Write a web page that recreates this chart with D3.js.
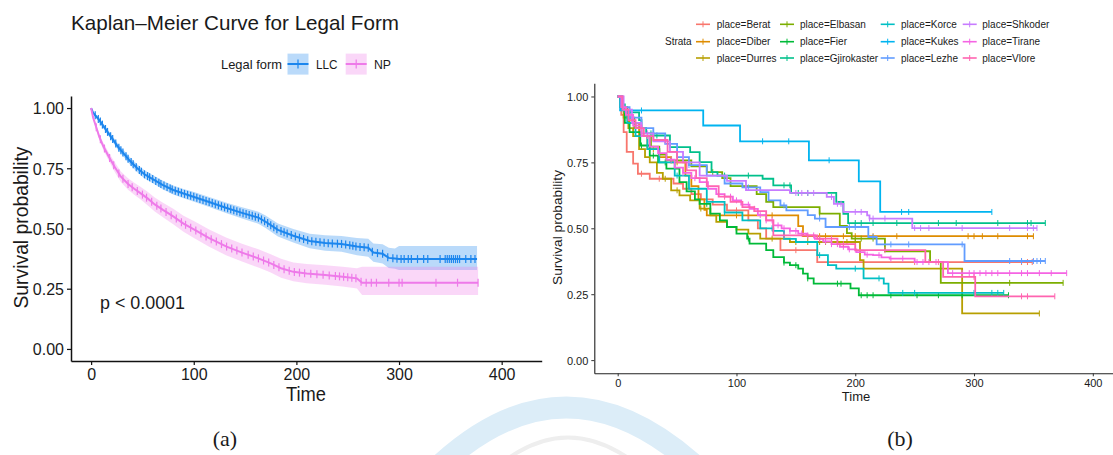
<!DOCTYPE html>
<html><head><meta charset="utf-8">
<script src="https://cdn.jsdelivr.net/npm/d3@7"></script>
<style>
body{margin:0;background:#fff}
svg{display:block}
text{font-family:"Liberation Sans",Arial,sans-serif;fill:#1a1a1a}
</style></head>
<body><svg id="c" width="1113" height="455"></svg>
<script>
// ---------------- DATA: panel (a) ----------------
const legalForms = ["LLC", "NP"];
const legalColors = ["#1C86EE", "#EE7AE9"];
const xTicks = [0, 100, 200, 300, 400];
const yTicks = [0, 0.25, 0.5, 0.75, 1];

const llcTime  = [0, 2, 5, 8, 12, 17, 22, 26, 32, 38, 45, 52, 60, 70, 80, 90, 101, 115, 132, 147, 163, 170, 182, 197, 213, 228, 244, 259, 270, 275, 284, 290, 296, 300, 376];
const llcSurv  = [1, 0.98, 0.965, 0.95, 0.925, 0.895, 0.865, 0.84, 0.81, 0.78, 0.75, 0.725, 0.705, 0.68, 0.66, 0.645, 0.63, 0.61, 0.585, 0.565, 0.545, 0.528, 0.494, 0.47, 0.448, 0.44, 0.436, 0.425, 0.42, 0.40, 0.395, 0.378, 0.375, 0.373, 0.373];
const llcUpper = [1, 0.984, 0.971, 0.958, 0.935, 0.906, 0.877, 0.853, 0.824, 0.795, 0.766, 0.742, 0.722, 0.698, 0.679, 0.664, 0.65, 0.631, 0.607, 0.588, 0.57, 0.554, 0.521, 0.498, 0.478, 0.472, 0.469, 0.461, 0.457, 0.438, 0.435, 0.42, 0.417, 0.427, 0.427];
const llcLower = [1, 0.976, 0.959, 0.942, 0.915, 0.884, 0.853, 0.827, 0.796, 0.765, 0.734, 0.708, 0.688, 0.662, 0.641, 0.626, 0.61, 0.589, 0.563, 0.542, 0.52, 0.502, 0.467, 0.442, 0.418, 0.408, 0.403, 0.389, 0.383, 0.362, 0.355, 0.336, 0.333, 0.328, 0.328];
const llcCensor = [4,7,9,11,14,16,19,21,24,27,29,31,34,36,39,41,44,47,49,52,55,57,60,63,66,68,71,74,77,79,82,85,88,91,94,97,100,103,106,109,112,115,118,121,124,127,130,133,136,139,142,145,148,151,154,157,160,163,166,169,172,175,178,181,185,188,191,195,199,203,207,211,215,219,223,227,231,235,240,244,248,252,255,258,262,266,270,274,279,284,289,294,298,302,305,309,312,318,324,328,340,345,347,349,351,353,355,357,359,365,370,374];

const npTime  = [0, 2, 5, 8, 12, 17, 23, 29, 36, 42, 48, 55, 62, 70, 80, 90, 101, 115, 132, 147, 163, 175, 185, 197, 210, 228, 245, 259, 264, 377];
const npSurv  = [1, 0.96, 0.92, 0.88, 0.84, 0.80, 0.755, 0.715, 0.685, 0.665, 0.647, 0.625, 0.60, 0.577, 0.55, 0.52, 0.494, 0.46, 0.425, 0.40, 0.376, 0.355, 0.335, 0.32, 0.313, 0.307, 0.30, 0.293, 0.275, 0.275];
const npUpper = [1, 0.966, 0.93, 0.892, 0.855, 0.817, 0.775, 0.737, 0.709, 0.69, 0.673, 0.653, 0.629, 0.607, 0.582, 0.553, 0.529, 0.496, 0.462, 0.437, 0.414, 0.393, 0.374, 0.359, 0.353, 0.347, 0.341, 0.335, 0.341, 0.341];
const npLower = [1, 0.954, 0.91, 0.868, 0.825, 0.783, 0.735, 0.693, 0.661, 0.64, 0.621, 0.597, 0.571, 0.547, 0.518, 0.487, 0.459, 0.424, 0.388, 0.363, 0.338, 0.317, 0.296, 0.281, 0.273, 0.267, 0.259, 0.251, 0.224, 0.224];
const npCensor = [5,9,13,18,22,27,31,36,40,45,50,54,59,64,68,73,78,83,88,92,97,102,107,112,117,122,127,132,137,142,147,153,158,163,168,173,178,183,188,193,198,203,208,214,220,226,232,238,242,246,250,254,258,263,268,273,278,290,300,303,336,357,377];

// ---------------- DATA: panel (b) ----------------
const places = ["Berat","Diber","Durres","Elbasan","Fier","Gjirokaster","Korce","Kukes","Lezhe","Shkoder","Tirane","Vlore"];
const placeColors = ["#F8766D","#DE8C00","#B79F00","#7CAE00","#00BA38","#00C08B","#00BFC4","#00B4F0","#619CFF","#C77CFF","#F564E3","#FF64B0"];

const beratT = [0,3,5,7.6,13,17,27,47,55,62,70,80,92,110,118,125,137,168,349];
const beratS = [1,0.93,0.865,0.79,0.745,0.707,0.688,0.67,0.65,0.63,0.61,0.59,0.568,0.53,0.50,0.461,0.417,0.372,0.372];
const beratC = [20,35,100,150,250,340,345,349];

const diberT = [0,4,10,18,25,35,45,57,62,68,73,75,152,156,350];
const diberS = [1,0.95,0.90,0.85,0.80,0.77,0.75,0.70,0.66,0.61,0.57,0.549,0.508,0.47,0.47];
const diberC = [30,50,100,130,160,170,175,190,200,215,235,295,300,307,320,345,350];

const durresT = [0,2,5,9,13,18,23,27,33,38,45,52,61,69,78,83,92,100,110,120,145,204,207,290,355];
const durresS = [1,0.96,0.92,0.88,0.85,0.80,0.77,0.75,0.71,0.688,0.644,0.625,0.606,0.575,0.549,0.524,0.505,0.495,0.48,0.461,0.448,0.379,0.347,0.177,0.177];
const durresC = [40,50,70,100,130,150,160,170,175,185,193,200,355];

const elbasanT = [0,3,8,14,20,28,35,41,62,75,88,95,117,125,131,170,187,193,197,225,263,272,375];
const elbasanS = [1,0.96,0.92,0.88,0.85,0.81,0.78,0.758,0.735,0.713,0.69,0.66,0.63,0.60,0.58,0.556,0.509,0.482,0.461,0.413,0.372,0.293,0.293];
const elbasanC = [45,80,170,200,205,215,330,375];

const fierT = [0,3,6,10,19,27,34,41,52,58,65,69,78,86,92,100,109,111,125,131,140,145,152,156,160,165,196,203,329];
const fierS = [1,0.95,0.90,0.865,0.814,0.776,0.75,0.726,0.675,0.64,0.61,0.593,0.556,0.53,0.505,0.48,0.461,0.442,0.417,0.391,0.37,0.36,0.347,0.328,0.31,0.29,0.272,0.246,0.246];
const fierC = [20,30,40,75,110,140,150,160,185,188,205,210,215,230,252,270,290,329];

const gjiroT = [0,3,6,18,20,24,30,44,61,69,79,84,122,131,146,184,190,194,360];
const gjiroS = [1,0.97,0.94,0.91,0.88,0.86,0.852,0.808,0.789,0.751,0.713,0.70,0.688,0.663,0.634,0.60,0.555,0.52,0.52];
const gjiroC = [28,33,90,110,140,145,152,160,200,205,215,235,270,285,320,345,348,360];

const korceT = [0,3,8,15,25,35,48,60,75,90,105,120,131,140,150,168,177,184,207,224,228,325];
const korceS = [1,0.95,0.90,0.85,0.80,0.75,0.70,0.65,0.60,0.56,0.53,0.50,0.49,0.46,0.448,0.398,0.36,0.347,0.31,0.29,0.255,0.255];
const korceC = [50,90,130,170,200,220,240,250,300,315,320,325];

const kukesT = [0,2,72,103,161,203,221,315];
const kukesS = [1,0.947,0.89,0.83,0.758,0.678,0.562,0.562];
const kukesC = [20,122,144,178,239,245,315];

const lezheT = [0,4,10,20,30,40,50,60,75,90,105,120,127,137,142,160,166,175,211,218,292,360];
const lezheS = [1,0.96,0.92,0.88,0.86,0.82,0.77,0.74,0.70,0.67,0.655,0.637,0.606,0.587,0.568,0.55,0.537,0.505,0.467,0.439,0.376,0.376];
const lezheC = [10,30,60,110,140,170,195,200,215,230,245,290,330,340,350,353,356,360];

const shkoderT = [0,5,12,20,30,44,55,69,92,108,145,176,182,190,210,212,248,353];
const shkoderS = [1,0.95,0.90,0.86,0.83,0.79,0.75,0.70,0.68,0.645,0.634,0.619,0.593,0.562,0.549,0.537,0.501,0.501];
const shkoderC = [25,40,150,155,160,165,180,185,188,200,205,212,215,225,250,255,262,290,330,345,350,353];

const tiraneT = [0,3,7,13,20,27,34,41,48,55,62,69,76,83,90,97,104,111,118,125,131,138,145,152,159,166,173,180,187,194,201,208,215,222,229,250,278,378];
const tiraneS = [1,0.96,0.93,0.89,0.85,0.81,0.785,0.76,0.73,0.71,0.69,0.675,0.65,0.63,0.62,0.606,0.59,0.574,0.55,0.53,0.511,0.50,0.49,0.48,0.473,0.46,0.45,0.44,0.43,0.42,0.41,0.40,0.398,0.39,0.385,0.372,0.33,0.33];
const tiraneC = [15,25,35,45,55,65,75,85,95,100,105,110,115,120,125,130,135,140,145,150,155,160,165,170,175,180,185,190,195,200,210,220,230,240,252,257,262,268,282,290,296,300,305,310,315,320,330,340,345,355,365,378];

const vloreT = [0,4,9,15,22,30,42,50,58,66,75,85,95,105,115,125,131,168,185,200,259,274,301,368];
const vloreS = [1,0.95,0.91,0.88,0.85,0.835,0.79,0.75,0.72,0.69,0.66,0.62,0.60,0.58,0.565,0.53,0.473,0.461,0.44,0.417,0.372,0.316,0.242,0.242];
const vloreC = [40,90,140,170,180,190,225,270,300,340,345,368];

const strataT = [beratT,diberT,durresT,elbasanT,fierT,gjiroT,korceT,kukesT,lezheT,shkoderT,tiraneT,vloreT];
const strataS = [beratS,diberS,durresS,elbasanS,fierS,gjiroS,korceS,kukesS,lezheS,shkoderS,tiraneS,vloreS];
const strataC = [beratC,diberC,durresC,elbasanC,fierC,gjiroC,korceC,kukesC,lezheC,shkoderC,tiraneC,vloreC];

// ---------------- DRAW ----------------
const svg = d3.select("#c");
const fmt = d3.format(".2f");

// watermark decoration
svg.append("path").attr("d","M 420 485 Q 565 330 715 485").attr("fill","none")
  .attr("stroke","#dcedf8").attr("stroke-width",22);
svg.append("path").attr("d","M 478 485 Q 567 390 660 485").attr("fill","none")
  .attr("stroke","#eeeeee").attr("stroke-width",4);

// ===== Panel (a) =====
const xL = d3.scaleLinear().domain([-19.6, 439]).range([71, 541.7]);
const yL = d3.scaleLinear().domain([-0.05, 1.05]).range([361, 96]);

const gA = svg.append("g");
function drawGroup(T, S, U, Lo, C, color) {
  const band = d3.area().x((d,i)=>xL(T[i])).y0((d,i)=>yL(Lo[i])).y1((d,i)=>yL(U[i]));
  gA.append("path").attr("d", band(T)).attr("fill", color).attr("opacity", 0.3);
  const line = d3.line().x((d,i)=>xL(T[i])).y((d,i)=>yL(S[i]));
  gA.append("path").attr("d", line(T)).attr("fill","none").attr("stroke",color).attr("stroke-width",2);
  const interp = d3.scaleLinear().domain(T).range(S);
  gA.append("g").selectAll("line").data(C).join("line")
    .attr("x1", d=>xL(d)).attr("x2", d=>xL(d))
    .attr("y1", d=>yL(interp(d))-4).attr("y2", d=>yL(interp(d))+4)
    .attr("stroke", color).attr("stroke-width", 1.2);
}
drawGroup(llcTime, llcSurv, llcUpper, llcLower, llcCensor, legalColors[0]);
drawGroup(npTime, npSurv, npUpper, npLower, npCensor, legalColors[1]);

const axL = gA.append("g").attr("transform","translate(71,0)")
  .call(d3.axisLeft(yL).tickValues(yTicks).tickFormat(fmt).tickSize(4).tickSizeOuter(0));
const axB = gA.append("g").attr("transform","translate(0,361)")
  .call(d3.axisBottom(xL).tickValues(xTicks).tickSize(4).tickSizeOuter(0));
[axL, axB].forEach(a=>{
  a.select(".domain").attr("stroke","#111").attr("stroke-width",1.5);
  a.selectAll(".tick line").attr("stroke","#111").attr("stroke-width",1.2);
  a.selectAll(".tick text").style("font-size","16px").style("font-family","'Liberation Sans',Arial,sans-serif").attr("fill","#1a1a1a");
});
axL.selectAll(".tick text").attr("x",-7).attr("dy","0.36em");
axB.selectAll(".tick text").attr("y",7).attr("dy","0.76em");

gA.append("text").attr("x",71).attr("y",30).style("font-size","21px").attr("textLength",328).attr("lengthAdjust","spacingAndGlyphs")
  .text("Kaplan–Meier Curve for Legal Form");
gA.append("text").attr("transform","translate(28,227.5) rotate(-90)").attr("text-anchor","middle")
  .style("font-size","20px").attr("textLength",162).attr("lengthAdjust","spacingAndGlyphs").text("Survival probability");
gA.append("text").attr("x",306).attr("y",401).attr("text-anchor","middle").style("font-size","20px")
  .attr("textLength",40).attr("lengthAdjust","spacingAndGlyphs").text("Time");
gA.append("text").attr("x",100).attr("y",308.5).style("font-size","18px").attr("textLength",85).attr("lengthAdjust","spacingAndGlyphs").text("p < 0.0001");

// legend (a)
gA.append("text").attr("x",221).attr("y",68.5).style("font-size","13.5px").attr("textLength",61).attr("lengthAdjust","spacingAndGlyphs").text("Legal form");
const legA = [{x:287.5, tx:316, tw:21.5}, {x:345.7, tx:374, tw:17}];
legalForms.forEach((lf,i)=>{
  const L = legA[i];
  gA.append("rect").attr("x",L.x).attr("y",53.6).attr("width",21).attr("height",21).attr("fill",legalColors[i]).attr("opacity",0.3);
  gA.append("line").attr("x1",L.x).attr("x2",L.x+21).attr("y1",64).attr("y2",64).attr("stroke",legalColors[i]).attr("stroke-width",2);
  gA.append("line").attr("x1",L.x+10.5).attr("x2",L.x+10.5).attr("y1",59.5).attr("y2",68.5).attr("stroke",legalColors[i]).attr("stroke-width",1.2);
  gA.append("text").attr("x",L.tx).attr("y",68.5).style("font-size","13.5px").attr("textLength",L.tw).attr("lengthAdjust","spacingAndGlyphs").text(lf);
});

// ===== Panel (b) =====
const xR = d3.scaleLinear().domain([-19.7, 417]).range([594.3, 1113]);
const yR = d3.scaleLinear().domain([-0.05, 1.05]).range([373.3, 83.3]);
const gB = svg.append("g");

function stepAt(T, S, t) { let v = S[0]; for (let i = 0; i < T.length; i++) if (T[i] <= t) v = S[i]; return v; }
const stepLine = d3.line().curve(d3.curveStepAfter);
places.forEach((p,k)=>{
  const T = strataT[k], S = strataS[k];
  gB.append("path").attr("d", stepLine(T.map((t,i)=>[xR(t), yR(S[i])])))
    .attr("fill","none").attr("stroke",placeColors[k]).attr("stroke-width",1.8);
  gB.append("g").selectAll("line").data(strataC[k]).join("line")
    .attr("x1",d=>xR(d)).attr("x2",d=>xR(d))
    .attr("y1",d=>yR(stepAt(T,S,d))-3).attr("y2",d=>yR(stepAt(T,S,d))+3)
    .attr("stroke",placeColors[k]).attr("stroke-width",1);
});

const axRL = gB.append("g").attr("transform","translate(594.3,0)")
  .call(d3.axisLeft(yR).tickValues(yTicks).tickFormat(fmt).tickSize(3).tickSizeOuter(0));
const axRB = gB.append("g").attr("transform","translate(0,373.3)")
  .call(d3.axisBottom(xR).tickValues(xTicks).tickSize(3).tickSizeOuter(0));
[axRL, axRB].forEach(a=>{
  a.select(".domain").attr("stroke","#222").attr("stroke-width",1.1);
  a.selectAll(".tick line").attr("stroke","#333").attr("stroke-width",1);
  a.selectAll(".tick text").style("font-size","11px").style("font-family","'Liberation Sans',Arial,sans-serif").attr("fill","#333");
});
axRL.selectAll(".tick text").attr("x",-6).attr("dy","0.36em");
axRB.selectAll(".tick text").attr("y",5).attr("dy","0.76em");

gB.append("text").attr("transform","translate(562,227.5) rotate(-90)").attr("text-anchor","middle")
  .style("font-size","13.5px").attr("textLength",115).attr("lengthAdjust","spacingAndGlyphs").text("Survival probability");
gB.append("text").attr("x",856).attr("y",401).attr("text-anchor","middle").style("font-size","13px").text("Time");

// legend (b)
gB.append("text").attr("x",665).attr("y",45).style("font-size","10px").attr("fill","#333").text("Strata");
const colKeyX = [696, 780, 880.7, 962.7];
const colTxtX = [716.7, 800, 901, 982.3];
const rowY = [24.3, 41.7, 58];
places.forEach((p,k)=>{
  const c = Math.floor(k/3), r = k%3;
  gB.append("line").attr("x1",colKeyX[c]).attr("x2",colKeyX[c]+14).attr("y1",rowY[r]).attr("y2",rowY[r])
    .attr("stroke",placeColors[k]).attr("stroke-width",1.6);
  gB.append("line").attr("x1",colKeyX[c]+7).attr("x2",colKeyX[c]+7).attr("y1",rowY[r]-3).attr("y2",rowY[r]+3)
    .attr("stroke",placeColors[k]).attr("stroke-width",1);
  gB.append("text").attr("x",colTxtX[c]).attr("y",rowY[r]+3.5).style("font-size","10px").attr("fill","#333").text("place=" + p);
});

// panel captions
svg.append("text").attr("x",225).attr("y",446).attr("text-anchor","middle")
  .style("font-family","'Liberation Serif','Times New Roman',serif").style("font-size","22px").attr("fill","#000").text("(a)");
svg.append("text").attr("x",900).attr("y",446).attr("text-anchor","middle")
  .style("font-family","'Liberation Serif','Times New Roman',serif").style("font-size","22px").attr("fill","#000").text("(b)");
</script>
</body></html>
